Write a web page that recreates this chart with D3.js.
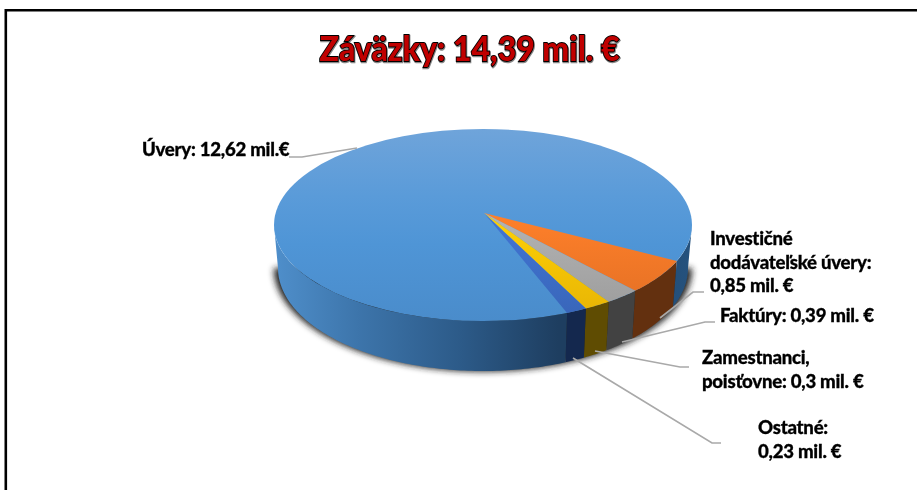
<!DOCTYPE html>
<html>
<head>
<meta charset="utf-8">
<script src="https://cdn.jsdelivr.net/npm/d3@7"></script>
<style>
  html, body { margin: 0; padding: 0; background: #fff; }
  svg { display: block; }
  text { font-family: Lato, "Open Sans", sans-serif; font-weight: 900; }
</style>
</head>
<body>
<svg id="chart" width="917" height="490"></svg>
<script>
// values in mil. EUR, in drawing order (clockwise from the orange slice)
const categories = ["Investičné dodávateľské úvery", "Faktúry", "Zamestnanci, poisťovne", "Ostatné", "Úvery"];
const values = [0.85, 0.39, 0.3, 0.23, 12.62];
const titleText = "Záväzky: 14,39 mil. €";
const labelLines = [
  ["Investičné", "dodávateľské úvery:", "0,85 mil. €"],
  ["Faktúry: 0,39 mil. €"],
  ["Zamestnanci,", "poisťovne: 0,3 mil. €"],
  ["Ostatné:", "0,23 mil. €"],
  ["Úvery: 12,62 mil.€"]
];

// layout, not data
const labelPos = [
  { x: 710, y: 245, dy: 23.5 },
  { x: 720, y: 322, dy: 0 },
  { x: 702, y: 364, dy: 24 },
  { x: 758, y: 434, dy: 24 },
  { x: 142, y: 156, dy: 0 }
];
const leaders = [
  [[704, 292], [693, 292], [660, 318]],
  [[715, 322], [705, 322], [622, 342]],
  [[689, 367], [680, 367], [595, 351]],
  [[721, 443], [712, 443], [573, 358]],
  [[289, 157], [302, 157], [357, 148]]
];
const topColors = ["#ee7526", "#a5a5a5", "#f5bf05", "#3c6cc4"];
const sideColors = ["#63300f", "#424242", "#5f4c02", "#14284e"];

const svg = d3.select("#chart");
const defs = svg.append("defs");

const top_ = { cx: 483, cy: 225, rx: 209, ry: 96, ax: 484, ay: 213 };
const bot = { cx: 483, cy: 268, rx: 205, ry: 103 };
const rad = Math.PI / 180;

function rim(e, a) {
  return [e.cx + e.rx * Math.sin(a), e.cy - e.ry * Math.cos(a)];
}
function angles(a0, a1) {
  const n = Math.max(2, Math.ceil((a1 - a0) / (rad * 1)));
  return d3.range(n + 1).map(i => a0 + (a1 - a0) * i / n);
}

const pie = d3.pie().sort(null).value(d => d)
  .startAngle(112 * rad).endAngle((112 + 360) * rad);
const arcs = pie(values);
const line = d3.line();

function grad(id, attrs, stops) {
  const g = defs.append("linearGradient").attr("id", id)
    .attr("gradientUnits", "userSpaceOnUse")
    .attr("x1", attrs[0]).attr("y1", attrs[1]).attr("x2", attrs[2]).attr("y2", attrs[3]);
  stops.forEach(s => g.append("stop").attr("offset", s[0]).attr("stop-color", s[1]));
}
grad("topBlue", [0, 129, 0, 321], [[0, "#6fa4da"], [0.35, "#5a9bd9"], [0.6, "#4f95d6"], [1, "#4a8ccb"]]);
grad("sideBlue", [274, 0, 692, 0], [[0, "#4f8fcb"], [0.2, "#3d75ab"], [0.45, "#2c5a88"], [0.68, "#1e3e60"], [0.7, "#1e3e60"], [1, "#25527e"]]);
topColors.forEach((c, i) => {
  grad("top" + i, [0, 213, 0, 315], [[0, d3.color(c).brighter(0.25)], [1, d3.color(c).darker(0.15)]]);
});

const blurShadow = defs.append("filter").attr("id", "shadow")
  .attr("x", "-10%").attr("y", "-10%").attr("width", "120%").attr("height", "120%");
blurShadow.append("feGaussianBlur").attr("stdDeviation", 3);
const blurText = defs.append("filter").attr("id", "soft")
  .attr("x", "-5%").attr("y", "-20%").attr("width", "110%").attr("height", "140%");
blurText.append("feGaussianBlur").attr("stdDeviation", 0.5);
const blurLine = defs.append("filter").attr("id", "softLine")
  .attr("x", 0).attr("y", 0).attr("width", 917).attr("height", 490)
  .attr("filterUnits", "userSpaceOnUse");
blurLine.append("feGaussianBlur").attr("stdDeviation", 0.4);

// frame, runs off the right and bottom of the picture
svg.append("path")
  .attr("d", "M5.8,490V10.2H917")
  .attr("fill", "none").attr("stroke", "#000").attr("stroke-width", 2.6);

// title
const title = svg.append("g").attr("font-size", 35).attr("text-anchor", "middle");
title.append("text").attr("x", 470).attr("y", 62).text(titleText)
  .attr("textLength", 300).attr("lengthAdjust", "spacingAndGlyphs")
  .attr("fill", "#888").attr("stroke", "#888").attr("stroke-width", 2.5).attr("filter", "url(#soft)");
title.append("text").attr("x", 469.5).attr("y", 61).text(titleText)
  .attr("textLength", 300).attr("lengthAdjust", "spacingAndGlyphs")
  .attr("fill", "#c00000").attr("stroke", "#000").attr("stroke-width", 1.8)
  .attr("paint-order", "stroke").attr("filter", "url(#soft)");

// soft shadow, only below the widest part of the top face
svg.append("path")
  .attr("d", line(angles(90 * rad, 270 * rad).map(a => rim(bot, a))) + "Z")
  .attr("fill", "#222")
  .attr("transform", "translate(483,268) scale(1.02,1.005) translate(-483,-268)")
  .attr("filter", "url(#shadow)");

// side walls, only the front half is visible
function wall(a0, a1) {
  const front0 = Math.max(a0, 90 * rad), front1 = Math.min(a1, 270 * rad);
  const pts = angles(front0, front1);
  return line(pts.map(a => rim(top_, a)).concat(pts.slice().reverse().map(a => rim(bot, a)))) + "Z";
}
arcs.forEach((d, i) => {
  if (i === 4) {
    // the big slice wraps round, so it shows on both ends of the front
    const walls = [[d.startAngle, 270 * rad], [90 * rad, arcs[0].startAngle]];
    walls.forEach(w => {
      svg.append("path").attr("class", "wall").attr("d", wall(w[0], w[1])).attr("fill", "url(#sideBlue)");
    });
  } else {
    svg.append("path").attr("class", "wall").attr("d", wall(d.startAngle, d.endAngle)).attr("fill", sideColors[i]);
  }
});

// top face
svg.append("ellipse")
  .attr("cx", top_.cx).attr("cy", top_.cy).attr("rx", top_.rx).attr("ry", top_.ry)
  .attr("fill", "url(#topBlue)");
arcs.slice(0, 4).forEach((d, i) => {
  const pts = [[top_.ax, top_.ay]].concat(angles(d.startAngle, d.endAngle).map(a => rim(top_, a)));
  svg.append("path").attr("class", "slice").attr("d", line(pts) + "Z").attr("fill", "url(#top" + i + ")");
});

// leader lines
leaders.forEach(l => {
  svg.append("path").attr("d", line(l)).attr("fill", "none")
    .attr("stroke", "#a9a9a9").attr("stroke-width", 1.7).attr("filter", "url(#softLine)");
});

// labels
labelLines.forEach((lines, i) => {
  const p = labelPos[i];
  const t = svg.append("text").attr("font-size", 18.6).attr("letter-spacing", -0.25)
    .attr("fill", "#000").attr("stroke", "#000").attr("stroke-width", 0.3)
    .attr("filter", "url(#soft)");
  lines.forEach((s, k) => {
    t.append("tspan").attr("x", p.x).attr("y", p.y + k * p.dy).text(s);
  });
});
</script>
</body>
</html>
